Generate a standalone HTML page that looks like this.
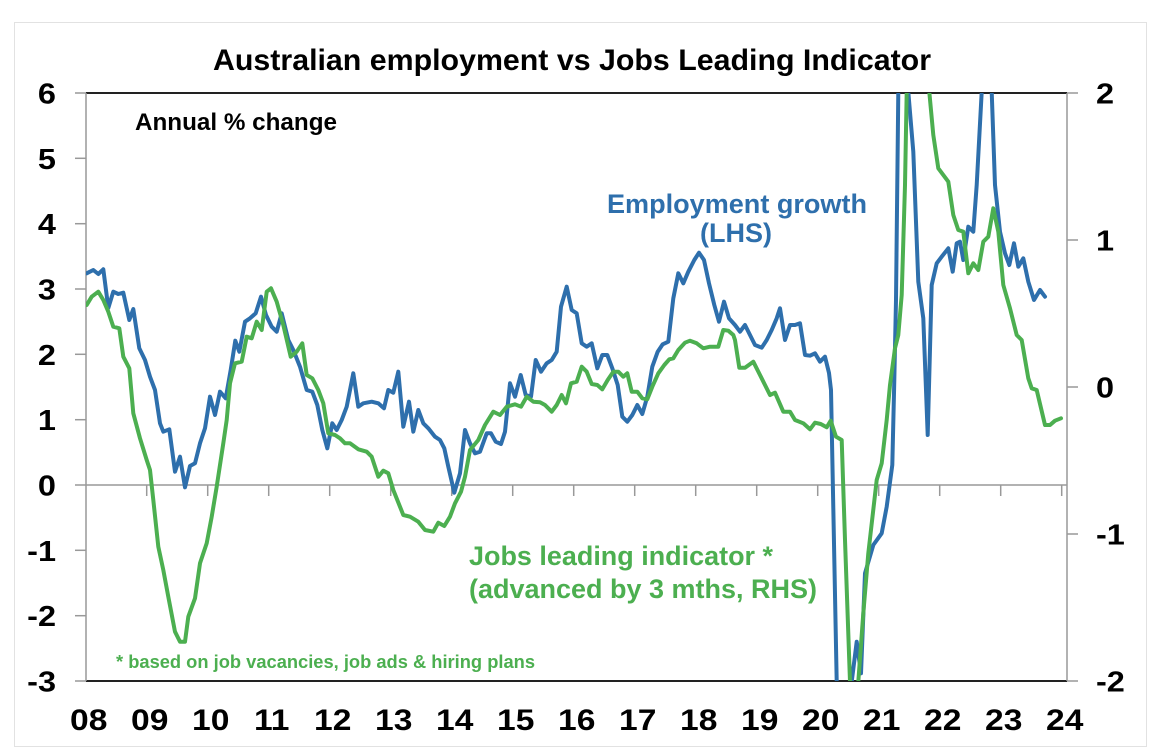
<!DOCTYPE html>
<html>
<head>
<meta charset="utf-8">
<style>
html,body{margin:0;padding:0;background:#fff;}
svg{display:block;}
text{font-family:"Liberation Sans",Arial,sans-serif;font-weight:bold;}
</style>
</head>
<body>
<svg width="1156" height="754" viewBox="0 0 1156 754" xmlns="http://www.w3.org/2000/svg">
<defs>
<clipPath id="pa"><rect x="86" y="93" width="981" height="588"/></clipPath>
</defs>
<rect x="0" y="0" width="1156" height="754" fill="#fff"/>
<rect x="14.5" y="22.5" width="1132" height="724" fill="none" stroke="#e2e2e2" stroke-width="1"/>

<!-- title -->
<text x="213" y="70" font-size="30" textLength="718" lengthAdjust="spacingAndGlyphs" fill="#000">Australian employment vs Jobs Leading Indicator</text>

<!-- plot frame -->
<line x1="86" y1="93" x2="1067" y2="93" stroke="#222" stroke-width="2"/>
<line x1="86" y1="681" x2="1067" y2="681" stroke="#222" stroke-width="2"/>
<line x1="86" y1="93" x2="86" y2="681" stroke="#999" stroke-width="1.5"/>
<line x1="1067" y1="93" x2="1067" y2="681" stroke="#999" stroke-width="1.5"/>
<line x1="86" y1="485" x2="1067" y2="485" stroke="#999" stroke-width="1.5"/>

<!-- left ticks -->
<g stroke="#999" stroke-width="1.5">
<line x1="75" y1="93" x2="86" y2="93"/>
<line x1="75" y1="158.3" x2="86" y2="158.3"/>
<line x1="75" y1="223.7" x2="86" y2="223.7"/>
<line x1="75" y1="289" x2="86" y2="289"/>
<line x1="75" y1="354.3" x2="86" y2="354.3"/>
<line x1="75" y1="419.7" x2="86" y2="419.7"/>
<line x1="75" y1="485" x2="86" y2="485"/>
<line x1="75" y1="550.3" x2="86" y2="550.3"/>
<line x1="75" y1="615.7" x2="86" y2="615.7"/>
<line x1="75" y1="681" x2="86" y2="681"/>
<!-- right ticks -->
<line x1="1067" y1="93" x2="1078" y2="93"/>
<line x1="1067" y1="240" x2="1078" y2="240"/>
<line x1="1067" y1="387" x2="1078" y2="387"/>
<line x1="1067" y1="534" x2="1078" y2="534"/>
<line x1="1067" y1="681" x2="1078" y2="681"/>
<!-- x ticks -->
<line x1="146.7" y1="485" x2="146.7" y2="496"/>
<line x1="207.7" y1="485" x2="207.7" y2="496"/>
<line x1="268.7" y1="485" x2="268.7" y2="496"/>
<line x1="329.7" y1="485" x2="329.7" y2="496"/>
<line x1="390.7" y1="485" x2="390.7" y2="496"/>
<line x1="451.7" y1="485" x2="451.7" y2="496"/>
<line x1="512.7" y1="485" x2="512.7" y2="496"/>
<line x1="573.7" y1="485" x2="573.7" y2="496"/>
<line x1="634.7" y1="485" x2="634.7" y2="496"/>
<line x1="695.7" y1="485" x2="695.7" y2="496"/>
<line x1="756.7" y1="485" x2="756.7" y2="496"/>
<line x1="817.7" y1="485" x2="817.7" y2="496"/>
<line x1="878.7" y1="485" x2="878.7" y2="496"/>
<line x1="939.7" y1="485" x2="939.7" y2="496"/>
<line x1="1000.7" y1="485" x2="1000.7" y2="496"/>
<line x1="1061.7" y1="485" x2="1061.7" y2="496"/>
</g>

<!-- left labels -->
<g font-size="29" fill="#000" text-anchor="end">
<text transform="translate(56,103.5) scale(1.12,1)">6</text>
<text transform="translate(56,168.8) scale(1.12,1)">5</text>
<text transform="translate(56,234.2) scale(1.12,1)">4</text>
<text transform="translate(56,299.5) scale(1.12,1)">3</text>
<text transform="translate(56,364.8) scale(1.12,1)">2</text>
<text transform="translate(56,430.2) scale(1.12,1)">1</text>
<text transform="translate(56,495.5) scale(1.12,1)">0</text>
<text transform="translate(56,560.8) scale(1.12,1)">-1</text>
<text transform="translate(56,626.2) scale(1.12,1)">-2</text>
<text transform="translate(56,691.5) scale(1.12,1)">-3</text>
</g>
<!-- right labels -->
<g font-size="29" fill="#000" text-anchor="start">
<text transform="translate(1096,103.5) scale(1.12,1)">2</text>
<text transform="translate(1096,250.5) scale(1.12,1)">1</text>
<text transform="translate(1096,397.5) scale(1.12,1)">0</text>
<text transform="translate(1096,544.5) scale(1.12,1)">-1</text>
<text transform="translate(1096,691.5) scale(1.12,1)">-2</text>
</g>
<!-- x labels -->
<g font-size="30" fill="#000" text-anchor="middle">
<text transform="translate(88.7,730) scale(1.12,1)">08</text>
<text transform="translate(149.7,730) scale(1.12,1)">09</text>
<text transform="translate(210.7,730) scale(1.12,1)">10</text>
<text transform="translate(271.7,730) scale(1.12,1)">11</text>
<text transform="translate(332.7,730) scale(1.12,1)">12</text>
<text transform="translate(393.7,730) scale(1.12,1)">13</text>
<text transform="translate(454.7,730) scale(1.12,1)">14</text>
<text transform="translate(515.7,730) scale(1.12,1)">15</text>
<text transform="translate(576.7,730) scale(1.12,1)">16</text>
<text transform="translate(637.7,730) scale(1.12,1)">17</text>
<text transform="translate(698.7,730) scale(1.12,1)">18</text>
<text transform="translate(759.7,730) scale(1.12,1)">19</text>
<text transform="translate(820.7,730) scale(1.12,1)">20</text>
<text transform="translate(881.7,730) scale(1.12,1)">21</text>
<text transform="translate(942.7,730) scale(1.12,1)">22</text>
<text transform="translate(1003.7,730) scale(1.12,1)">23</text>
<text transform="translate(1064.7,730) scale(1.12,1)">24</text>
</g>

<!-- series -->
<g clip-path="url(#pa)" fill="none" stroke-width="4" stroke-linejoin="round" stroke-linecap="round">
<polyline stroke="#2e6fac" points="86.7,273.3 93.3,270 98.3,274 103.3,269.3 108.3,308 113.3,291.7 118.3,294 123.3,292.7 129.3,320 133.3,309 139.3,348.3 145,360 150,376.7 155,390 160,423.3 163.3,431.7 169.3,429.3 175,471.7 180,456.7 185,487.3 190,466 195,463.3 200,443.3 205,428.3 210,396.7 215,415 220,391.7 225.7,398.3 230.7,370 235.3,340.7 239.3,351.7 245,321.7 250,318.3 255.7,313.3 261,296.7 266,315 271.7,326.7 276.7,331.7 281.7,313.3 288.3,340 293.3,350 300,366.7 306.7,390 312.3,391.7 317.3,405 322.3,430 327.3,448.3 332.3,423.3 336.7,430 341.7,420 346.7,406.7 353.3,373.3 358.3,406.7 363.3,403.3 371.7,401.7 378.3,403.3 384,408.3 388.3,390 393.3,392.7 398.3,371.7 403.3,426.7 409,401.7 413.3,431.7 418.3,410 423.3,423.3 428.3,428.3 435,436.7 440,440 444.3,448.3 448.3,466.7 454.3,492.7 460,473.3 465,430 470,443.3 475,453.3 480,451.7 486.7,433.3 491,433.3 495.7,441.7 501,444 505,431.7 510,383.3 515,396.7 520.7,375 525.7,395 531,396.7 535.7,360 541,371.7 546.7,363.3 551.7,360 556.7,351.7 561,306.7 566.7,286.7 571.7,310 576.7,313.3 581.7,343.3 586.7,346.7 591.7,343.3 597.3,368.3 602.3,355 607.3,355 612.3,368.3 617.7,385 622.3,416.7 627.3,421.7 632.3,415 637.3,405 642.3,414 647.3,396.7 652.3,366.7 657.7,351.7 662.7,344.3 668.3,341.7 673.3,298.3 678.3,273.3 683.3,283.3 688.3,271.7 694.3,260 699,252.7 704,260 709,283.3 714.3,305 719,321.7 724,301.7 729,318.3 735,325 740,331.7 745,325 750,335 755,345 761.7,347.7 766.7,340 771.7,330 776.7,318.3 780,308.3 785,340 790,325 795,325 800,323.3 805,355 810,355.7 815,353.3 820,361.7 825,356.7 829,373 831,390 836.7,681.7 839,760 849,760 851.7,681.7 856.7,641.7 861,673.3 865,573.3 873.3,545 881.7,533.3 886.7,506.7 892.3,465 894.3,380 896,300 898.3,92 900,20 906,20 908.3,92 913.3,151.7 918.3,281.7 923.3,318.3 927.7,435 931.7,285 936.7,263.3 941.7,256.7 948.3,248.3 952.7,271.7 956.7,243.3 960,241.7 963.3,260 968.3,226.7 973.3,231.7 976.7,185 981.7,92 984,20 990,20 991.7,92 995,185 1000,231.7 1005,253.3 1009.3,265 1014,243.3 1018.3,266.7 1023.3,258.3 1028.3,281.7 1034,300 1040,290 1045,296.7"/>
<polyline stroke="#4caf50" points="86.7,305 91.7,296.7 98.3,291.7 103.3,300 108.3,311.7 113.3,326.7 119.3,328.3 123.3,356.7 129.3,368.3 133.3,413.3 140,438.3 146.7,460 150,470 153.3,500 158.3,546.7 163.3,570 168.3,596.7 175,631.7 180,641.7 185,641.7 188.3,616.7 195,598.3 200,563.3 206.7,543.3 211.7,516.7 216.7,486.7 223.3,443.3 226.7,420 230,383.3 235,363.3 241.7,361.7 246.7,336.7 251.7,338.3 256.7,321.7 261.7,330 266.7,291.7 271,288.3 276.7,301.7 283.3,325 290.7,356.7 296.7,351.7 302.3,343.3 306.7,375 312.3,378.3 318.3,390 323.3,403.3 328.3,433.3 335,435 340,438.3 345,443.3 350,443.3 358.3,449.3 366.7,451.7 371.7,456.7 378.3,476.7 383.3,470.7 388.3,473.3 393.3,490 403.3,515 410,516.7 418.3,521.7 425,530 433.3,531.7 438.3,522.7 444.3,526 450,516.7 455,503.3 461,491.7 465,476.7 470,450 478.3,440 485,425 493.3,411.7 500,415 506.7,406.7 515,404.3 521,406.7 526.7,396.7 533.3,401.7 540,402.3 545,405 551.7,411.7 556.7,405 561.7,395 566,403.3 571,383.3 576.7,381.7 581.7,366.7 586.7,371.7 591.7,384 597.3,385 602.3,389.3 607.7,380 613.3,371.7 618.3,371.7 623.3,376.7 627.3,373.3 631.7,391.7 637.3,391.7 642.3,398.3 647.3,399.3 652.3,386.7 658.3,373.3 664.3,365 669.3,359.3 673.3,358.3 678.3,350 685,342.7 690,340.7 696.7,343.3 703.3,348.3 710,346.7 718.3,346.7 723.3,330 728.3,330.7 733.3,335 735,340 739.3,367.7 745,367.7 753.3,361.7 760,375 765,385 770,395 775,392.7 783.3,411.7 790,411.7 795,420 803.3,423.3 810,429.3 815,422.7 820.7,424 826.7,427.3 830.7,420.7 836,436.7 841.7,440 845,540 850,681.7 852,720 856,720 858.3,681.7 863.3,613.3 868.3,553.3 876.7,480 881.7,463.3 886.7,420 890,385 895,348.3 898.3,335 901.7,295 905,185 906.7,92 908,20 928,20 929.3,92 933.3,135 938.3,168.3 948.3,181.7 953.3,215 958.3,230 963.3,231.7 968.3,273.3 973.3,263.3 978.3,270 983.3,241.7 988.3,236.7 993.3,208.3 998.3,231.7 1003.3,285 1010,308.3 1016.7,335 1021.7,340 1028.3,378.3 1031.7,388.3 1036.7,390 1045,425 1050,425 1055,420.7 1061,418.3"/>
</g>

<!-- annotations -->
<text x="135" y="130" font-size="24" textLength="202" lengthAdjust="spacingAndGlyphs" fill="#000">Annual % change</text>
<text x="607" y="213" font-size="27" textLength="260" lengthAdjust="spacingAndGlyphs" fill="#2e6fac">Employment growth</text>
<text x="700" y="242" font-size="27" textLength="72" lengthAdjust="spacingAndGlyphs" fill="#2e6fac">(LHS)</text>
<text x="469" y="565" font-size="27" textLength="304" lengthAdjust="spacingAndGlyphs" fill="#4caf50">Jobs leading indicator *</text>
<text x="469" y="598" font-size="27" textLength="348" lengthAdjust="spacingAndGlyphs" fill="#4caf50">(advanced by 3 mths, RHS)</text>
<text x="116" y="668" font-size="18.3" textLength="419" lengthAdjust="spacingAndGlyphs" fill="#4caf50">* based on job vacancies, job ads &amp; hiring plans</text>
</svg>
</body>
</html>
